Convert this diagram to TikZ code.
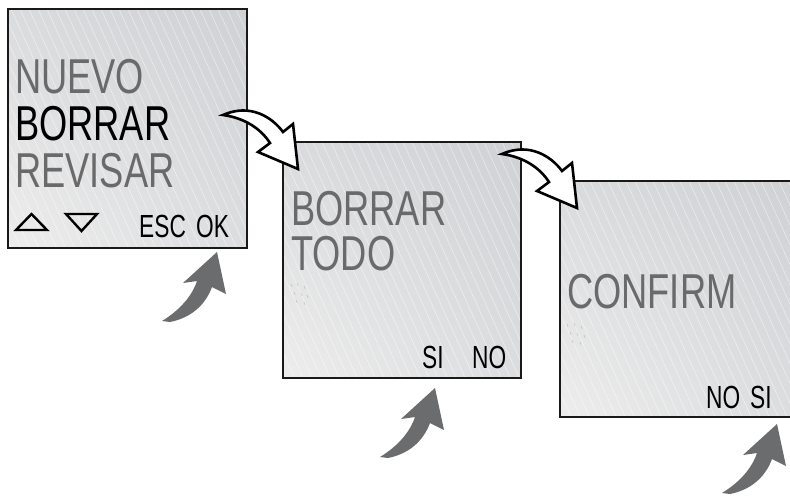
\documentclass[tikz,border=0pt]{standalone}
\usepackage{fontspec}
\usetikzlibrary{shadings}
\newfontfamily\lcd[FakeStretch=0.71]{Liberation Sans}
\newfontfamily\lcdbig[FakeStretch=0.74]{Liberation Sans}
\definecolor{lcdgray}{HTML}{6A6A6A}
\definecolor{arrowgray}{HTML}{6B6C6E}
\definecolor{scrUL}{HTML}{DADBDD}
\definecolor{scrUR}{HTML}{D0D1D4}
\definecolor{scrLL}{HTML}{EDEDED}
\definecolor{scrLR}{HTML}{DCDDDF}
\tikzset{
  bigtext/.style={font=\lcdbig\fontsize{49}{49}\selectfont, inner sep=0pt, anchor=base west},
  smalltext/.style={font=\lcd\fontsize{32}{32}\selectfont, inner sep=0pt, anchor=base west, text=black},
  dimtext/.style={text=lcdgray},
  frame/.style={line width=2pt, draw=black!90},
  stripe/.style={white, opacity=0.5, line width=0.6pt},
  whitearrow/.style={fill=white, draw=black, line width=2.6pt, line join=miter},
  grayarrow/.style={fill=arrowgray, draw=none},
  speck/.style={gray, opacity=0.35, line width=0.6pt}
}
\newcommand\lcdscreen[4]{%
  \shade[upper left=scrUL, upper right=scrUR, lower left=scrLL, lower right=scrLR] (#1,#2) rectangle (#3,#4);
  \begin{scope}
    \clip (#1,#2) rectangle (#3,#4);
    \foreach \k in {-150,-141,...,260} \draw[stripe] (#1+\k,#2) -- ++(110,242);
  \end{scope}
  \draw[frame] (#1,#2) rectangle (#3,#4);
}
\newcommand\whitearrowshape{%
  \draw[whitearrow] (223,115) .. controls (250,103) and (272,117) .. (283,132)
     -- (293,124) -- (298,169) -- (258,152) -- (270,143)
     .. controls (261,129) and (245,118) .. (223,115) -- cycle;
}
\newcommand\grayarrowshape{%
  \fill[grayarrow] (162,321) .. controls (180,310) and (192,296) .. (197,281)
     -- (183,283) -- (217,252) -- (226,294) -- (212,287)
     .. controls (205,306) and (190,318) .. (170,322) -- cycle;
}
\begin{document}
\begin{tikzpicture}[x=1pt,y=-1pt]
\useasboundingbox (0,0) rectangle (790,496);
\clip (0,0) rectangle (790,496);

% screens
\lcdscreen{8}{9}{247}{248}
\lcdscreen{283}{142}{521}{378}
\lcdscreen{560}{181}{793}{417}

% screen 1 texts
\node[bigtext, dimtext] (nuevo) at (15,93) {NUEVO};
\node[bigtext, text=black] (borrar1) at (15,140) {BORRAR};
\node[bigtext, dimtext] (revisar) at (15,187) {REVISAR};
\node[smalltext] (esc) at (139,237) {ESC};
\node[smalltext] (ok) at (196,237) {OK};
\draw[line width=2.4pt, line join=miter] (16,230) -- (47,230) -- (31.5,214) -- cycle;
\draw[line width=2.4pt, line join=miter] (66,214) -- (97,214) -- (81.5,231) -- cycle;

% screen 2 texts
\node[bigtext, dimtext] (borrar2) at (291,225) {BORRAR};
\node[bigtext, dimtext] (todo) at (291,270) {TODO};
\node[smalltext] (si2) at (422,368) {SI};
\node[smalltext] (no2) at (472,368) {NO};
\foreach \p in {(291,284),(297,283),(304,286),(294,292),(301,293),(307,295),(296,300),(304,302)}
  \draw[speck] \p -- ++(1.2,3);

% screen 3 texts
\node[bigtext, dimtext] (confirm) at (567,308) {CONFIRM};
\node[smalltext] (no3) at (706,408) {NO};
\node[smalltext] (si3) at (750,408) {SI};
\foreach \p in {(567,324),(574,323),(581,326),(570,332),(577,333),(584,335),(572,340),(580,342)}
  \draw[speck] \p -- ++(1.2,3);

% curved white arrows
\whitearrowshape
\begin{scope}[shift={(279,39)}]
  \whitearrowshape
\end{scope}

% gray press arrows
\grayarrowshape
\begin{scope}[shift={(218,136)}]
  \grayarrowshape
\end{scope}
\begin{scope}[shift={(560,172)}]
  \grayarrowshape
\end{scope}
\end{tikzpicture}
\end{document}
